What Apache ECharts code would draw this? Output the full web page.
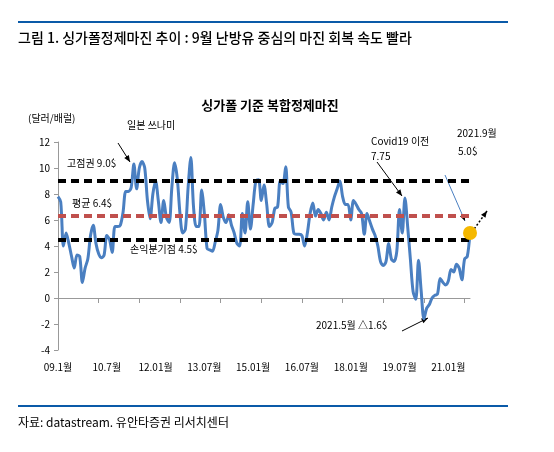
<!DOCTYPE html>
<html>
<head>
<meta charset="utf-8">
<script src="https://cdn.jsdelivr.net/npm/echarts@6/dist/echarts.min.js"></script>
<style>
  html, body { margin: 0; padding: 0; background: #fff; }
  #main { width: 554px; height: 452px; }
</style>
</head>
<body>
<div id="main"></div>
<script>
// 월별 복합정제마진 (2009.01 ~ 2021.09), 그림에서 읽은 값
var margin = [
  7.8, 7.4, 4.0, 5.0, 4.2, 3.2, 2.3, 3.3, 3.2, 1.2, 2.3, 3.0,
  4.8, 5.6, 4.2, 3.4, 3.1, 3.3, 4.8, 4.5, 3.5, 5.5, 5.5, 5.6,
  6.6, 8.2, 8.2, 8.5, 10.3, 8.4, 10.0, 10.5, 10.0, 7.5, 6.1, 8.0,
  9.0, 7.5, 5.8, 7.5, 6.2, 5.8, 8.5, 10.4, 9.2, 6.5, 5.0, 5.3,
  8.5, 10.8, 7.0, 5.5, 5.5, 8.3, 6.5, 3.8, 3.7, 3.6, 4.3, 5.2,
  7.2, 6.2, 5.8, 6.4, 5.6, 5.0, 4.2, 4.0, 6.5, 5.0, 7.4, 5.3,
  7.2, 9.0, 9.1, 7.5, 8.7, 7.2, 5.5, 5.8, 6.9, 7.0, 9.0, 8.8,
  10.1, 7.0, 6.6, 5.0, 4.9, 4.9, 4.8, 4.0, 5.0, 6.5, 7.3, 6.3,
  6.8, 6.5, 6.0, 6.6, 6.0, 7.0, 7.8, 8.4, 9.0, 7.8, 7.2, 7.2,
  6.0, 7.5, 7.2, 6.8, 6.5, 4.9, 6.5, 5.9, 5.3, 4.8, 4.0, 2.8,
  2.5, 2.8, 4.2, 3.0, 2.8, 3.6, 6.8, 5.0, 7.7, 5.5, 3.0, 0.5,
  -0.1, 2.9, 0.5, -1.6, -0.8, -0.5, 0.0, 0.2, 0.3, 1.5, 1.2, 1.0,
  1.3, 2.2, 2.0, 2.6, 2.3, 1.4, 3.0, 3.2, 5.0
];
var tickLabels = ['09.1월', '10.7월', '12.01월', '13.07월', '15.01월', '16.07월', '18.01월', '19.07월', '21.01월'];
var refHigh = 9.0, refAvg = 6.35, refLow = 4.5;

var months = [];
for (var i = 0; i < margin.length; i++) {
  var y = 2009 + Math.floor(i / 12), m = i % 12 + 1;
  months.push(y + '.' + (m < 10 ? '0' : '') + m);
}

var font = '"Noto Sans CJK KR", sans-serif';
var chart = echarts.init(document.getElementById('main'));

function txt(x, y, s, size, align, weight) {
  return { type: 'text', left: x, top: y, style: { text: s, font: (weight || 'normal') + ' ' + (size || 10) + 'px ' + font, fill: '#000', align: align || 'left' } };
}
function arrow(x1, y1, x2, y2, color, dash, w) {
  var a = Math.atan2(y2 - y1, x2 - x1), L = 7;
  return [
    { type: 'line', shape: { x1: x1, y1: y1, x2: x2, y2: y2 }, style: { stroke: color, lineWidth: w || 1, lineDash: dash || null } },
    { type: 'polygon', shape: { points: [[x2, y2],
      [x2 - L * Math.cos(a - 0.4), y2 - L * Math.sin(a - 0.4)],
      [x2 - L * Math.cos(a + 0.4), y2 - L * Math.sin(a + 0.4)]] }, style: { fill: '#000' } }
  ];
}

var graphics = [
  { type: 'rect', shape: { x: 18, y: 21, width: 490, height: 2 }, style: { fill: '#0a5aa8' } },
  { type: 'rect', shape: { x: 18, y: 405, width: 490, height: 2 }, style: { fill: '#0a5aa8' } },
  txt(18, 31, '그림 1. 싱가폴정제마진 추이 : 9월 난방유 중심의 마진 회복 속도 빨라', 14, 'left', 500),
  txt(18, 416, '자료: datastream. 유안타증권 리서치센터', 12),
  txt(28, 113, '(달러/배럴)', 10),
  txt(127, 120, '일본 쓰나미', 10, 'center'),
  txt(67, 158, '고점권 9.0$', 10),
  txt(72, 198, '평균 6.4$', 10),
  txt(130, 244, '손익분기점 4.5$', 10),
  txt(371, 136, 'Covid19 이전', 10, 'center'),
  txt(371, 151, '7.75', 10, 'center'),
  txt(457, 128, '2021.9월', 10, 'center'),
  txt(458, 146, '5.0$', 10, 'center'),
  txt(316, 320, '2021.5월 △1.6$', 10)
].concat(
  arrow(118, 143, 130, 162, '#000'),
  arrow(377, 162, 402, 196, '#000'),
  arrow(445, 175, 465, 221, '#4a7fc1'),
  arrow(472, 232, 487, 211, '#000', [2, 2], 1.5),
  arrow(402, 331, 428, 318, '#000')
);

var option = {
  animation: false,
  title: {
    text: '싱가폴 기준 복합정제마진', left: 265, top: 94, textAlign: 'center',
    textStyle: { fontFamily: font, fontSize: 13, fontWeight: 'bold', color: '#000' }
  },
  grid: { left: 58, right: 84, top: 142, bottom: 102 },
  xAxis: {
    type: 'category', data: months, boundaryGap: false,
    axisLine: { onZero: true, lineStyle: { color: '#999' } },
    axisTick: { interval: 14, length: 5, inside: false, lineStyle: { color: '#999' } },
    axisLabel: {
      interval: 17, margin: 12, color: '#000', fontFamily: font, fontSize: 10,
      formatter: function (v, idx) { return tickLabels[idx / 18] || ''; }
    }
  },
  yAxis: {
    type: 'value', min: -4, max: 12, interval: 2,
    splitLine: { show: false },
    axisLine: { show: true, lineStyle: { color: '#999' } },
    axisTick: { show: true, length: 4, lineStyle: { color: '#999' } },
    axisLabel: { color: '#000', fontFamily: font, fontSize: 10 }
  },
  series: [{
    type: 'line', data: margin, showSymbol: false, smooth: 0.3,
    lineStyle: { color: '#4a7fc1', width: 3 },
    z: 3,
    markLine: {
      silent: true, symbol: 'none', label: { show: false },
      data: [
        { yAxis: refHigh, lineStyle: { color: '#000', type: [8, 5], width: 4 } },
        { yAxis: refAvg, lineStyle: { color: '#c0504d', type: [8, 5], width: 4 } },
        { yAxis: refLow, lineStyle: { color: '#000', type: [8, 5], width: 4 } }
      ]
    },
    markPoint: {
      symbol: 'circle', symbolSize: 14, label: { show: false },
      itemStyle: { color: '#f5b800' },
      data: [{ coord: [margin.length - 1, margin[margin.length - 1]] }]
    }
  }],
  graphic: graphics
};
chart.setOption(option);
</script>
</body>
</html>
